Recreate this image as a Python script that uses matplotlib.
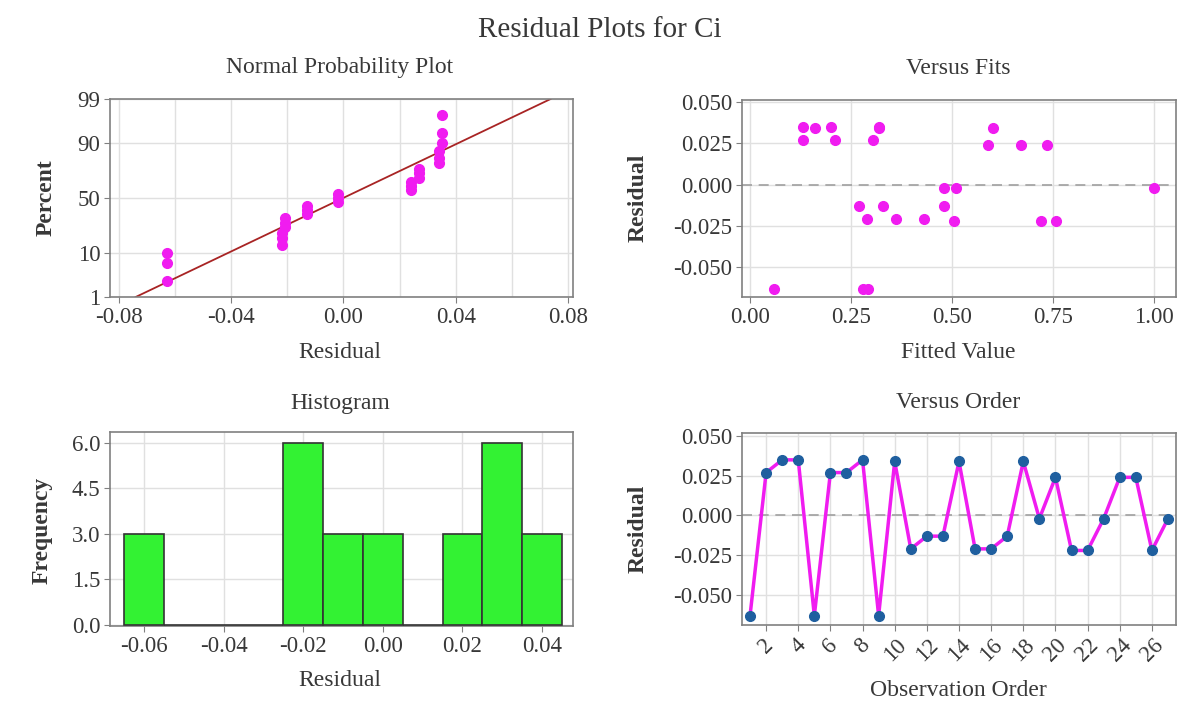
import matplotlib
matplotlib.use("Agg")
import matplotlib.pyplot as plt
from statistics import NormalDist
import numpy as np

# residuals in observation order
residuals = [-0.063, 0.027, 0.035, 0.035, -0.063, 0.027, 0.027, 0.035, -0.063,
             0.034, -0.021, -0.013, -0.013, 0.034, -0.021, -0.021, -0.013, 0.034,
             -0.002, 0.024, -0.022, -0.022, -0.002, 0.024, 0.024, -0.022, -0.002]
# fitted values for the same observations (Versus Fits panel)
fitted = [0.06, 0.13, 0.13, 0.20, 0.28, 0.21, 0.305, 0.32, 0.293,
          0.16, 0.29, 0.27, 0.33, 0.32, 0.36, 0.43, 0.48, 0.60,
          0.48, 0.59, 0.505, 0.72, 0.51, 0.67, 0.735, 0.757, 1.00]
# plotting positions (percent) of the sorted residuals
npp_percent = [2.6, 6.2, 9.9, 13.5, 17.2, 20.8, 24.5, 28.1, 31.8, 35.4, 39.1,
               42.7, 46.4, 50.0, 53.6, 57.3, 60.9, 64.6, 68.2, 71.9, 75.5,
               79.2, 82.8, 86.5, 90.1, 93.8, 97.4]
# histogram bins (centres) and counts
hist_centres = [-0.06, -0.05, -0.04, -0.03, -0.02, -0.01, 0.00, 0.01, 0.02, 0.03, 0.04]
hist_counts = [3, 0, 0, 0, 6, 3, 3, 0, 3, 6, 3]

npp_ticks = [1, 10, 50, 90, 99]
order_ticks = list(range(2, 27, 2))

W, H = 1200, 711
SERIF = ["Liberation Serif", "DejaVu Serif"]
plt.rcParams["font.family"] = SERIF
TXT = "#383838"
SPINE = "#808080"
GRID = "#e0e0e0"
MAGENTA = "#f01cf0"
TICK_FS = 16.5
LAB_FS = 17

fig = plt.figure(figsize=(W / 100, H / 100), dpi=100)


def box(left, top, right, bottom):
    # pixel box -> figure fraction rect
    return [left / W, (H - bottom) / H, (right - left) / W, (bottom - top) / H]


def ftext(x, y, s, size=LAB_FS, **kw):
    fig.text(x / W, 1 - y / H, s, ha="center", va="center", fontsize=size,
             color=TXT, **kw)


def style(ax):
    for sp in ax.spines.values():
        sp.set_color(SPINE)
        sp.set_linewidth(1.2)
    ax.tick_params(which="major", length=4, color=SPINE, labelsize=TICK_FS,
                   labelcolor=TXT, pad=3)
    ax.tick_params(which="minor", length=0)
    ax.grid(True, which="both", color=GRID, linewidth=1)
    ax.set_axisbelow(True)


ftext(600, 30, "Residual Plots for Ci", size=21)

# --- Normal probability plot ---
nd = NormalDist()
ax1 = fig.add_axes(box(110, 99, 573, 297))
style(ax1)
res_sorted = np.sort(residuals)
z_pts = [nd.inv_cdf(p / 100) for p in npp_percent]
mu, sd = np.mean(residuals), np.std(residuals, ddof=1)
zl = np.array([nd.inv_cdf(0.01), nd.inv_cdf(0.99)])
ax1.plot(mu + sd * zl, zl, color="#a82424", lw=1.3, zorder=2)
ax1.plot(res_sorted, z_pts, "o", color=MAGENTA, ms=7, zorder=3)
ax1.set_ylim(nd.inv_cdf(0.01), nd.inv_cdf(0.99))
ax1.set_yticks([nd.inv_cdf(p / 100) for p in npp_ticks])
ax1.set_yticklabels([str(p) for p in npp_ticks])
ax1.set_xlim(-0.0832, 0.0818)
ax1.set_xticks([-0.08, -0.04, 0.0, 0.04, 0.08])
ax1.set_xticklabels(["-0.08", "-0.04", "0.00", "0.04", "0.08"])
ax1.set_xticks(np.arange(-0.08, 0.081, 0.02), minor=True)
ftext(340, 68, "Normal Probability Plot")
ftext(340, 352, "Residual")
ftext(46, 198, "Percent", rotation=90, weight="bold")

# --- Versus fits ---
ax2 = fig.add_axes(box(742, 100, 1176, 297))
style(ax2)
ax2.axhline(0, color="#a0a0a0", lw=1.2, dashes=(6, 4), zorder=2)
ax2.plot(fitted, residuals, "o", color=MAGENTA, ms=7, zorder=3)
ax2.set_xlim(-0.02, 1.054)
ax2.set_ylim(-0.068, 0.0512)
ax2.set_xticks([0, 0.25, 0.5, 0.75, 1.0])
ax2.set_xticklabels(["0.00", "0.25", "0.50", "0.75", "1.00"])
ax2.set_yticks([-0.05, -0.025, 0, 0.025, 0.05])
ax2.set_yticklabels(["-0.050", "-0.025", "0.000", "0.025", "0.050"])
ftext(958, 68, "Versus Fits")
ftext(958, 352, "Fitted Value")
ftext(638, 198, "Residual", rotation=90, weight="bold")

# --- Histogram ---
ax3 = fig.add_axes(box(110, 432, 573, 626))
style(ax3)
ax3.bar(hist_centres, hist_counts, width=0.01, color="#33f233",
        edgecolor="#333333", linewidth=1.2, zorder=3)
ax3.set_xlim(-0.0686, 0.0478)
ax3.set_ylim(-0.04, 6.36)
ax3.set_xticks([-0.06, -0.04, -0.02, 0.0, 0.02, 0.04])
ax3.set_xticklabels(["-0.06", "-0.04", "-0.02", "0.00", "0.02", "0.04"])
ax3.set_yticks([0, 1.5, 3.0, 4.5, 6.0])
ax3.set_yticklabels(["0.0", "1.5", "3.0", "4.5", "6.0"])
ftext(340, 403, "Histogram")
ftext(340, 680, "Residual")
ftext(42, 530, "Frequency", rotation=90, weight="bold")

# --- Versus order ---
ax4 = fig.add_axes(box(742, 433, 1176, 625))
style(ax4)
obs = np.arange(1, len(residuals) + 1)
ax4.axhline(0, color="#a0a0a0", lw=1.2, dashes=(6, 4), zorder=2)
ax4.plot(obs, residuals, "-", color=MAGENTA, lw=2.5, zorder=3)
ax4.plot(obs, residuals, "o", color="#1f5f9f", ms=7, zorder=4)
ax4.set_xlim(0.5, 27.5)
ax4.set_ylim(-0.0689, 0.0519)
ax4.set_xticks(order_ticks)
ax4.set_xticklabels([str(t) for t in order_ticks], rotation=45, ha="center")
ax4.set_yticks([-0.05, -0.025, 0, 0.025, 0.05])
ax4.set_yticklabels(["-0.050", "-0.025", "0.000", "0.025", "0.050"])
ftext(958, 403, "Versus Order")
ftext(958, 690, "Observation Order")
ftext(638, 529, "Residual", rotation=90, weight="bold")

fig.savefig("out.png", dpi=100)
